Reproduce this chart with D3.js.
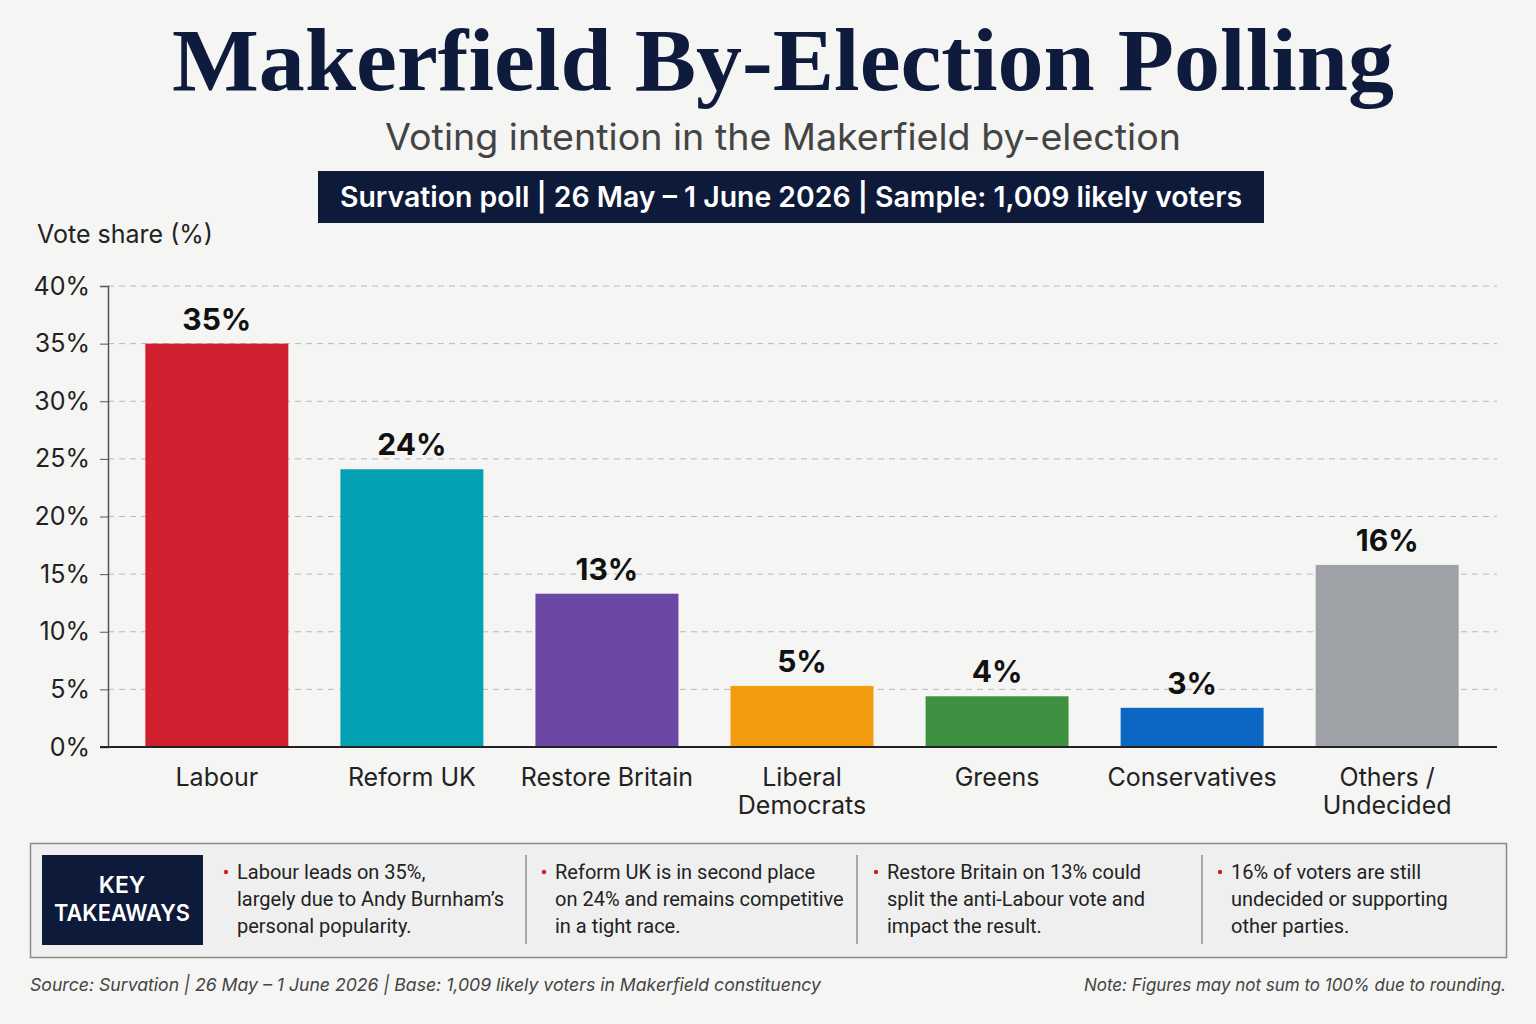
<!DOCTYPE html>
<html>
<head>
<meta charset="utf-8">
<script src="https://cdn.jsdelivr.net/npm/d3@7"></script>
<style>
  html, body { margin: 0; padding: 0; background: #f5f5f3; }
  svg { display: block; }
</style>
</head>
<body>
<script>
// poll data
const parties = ["Labour", "Reform UK", "Restore Britain", "Liberal Democrats", "Greens", "Conservatives", "Others / Undecided"]
const partyLines = [["Labour"], ["Reform UK"], ["Restore Britain"], ["Liberal", "Democrats"], ["Greens"], ["Conservatives"], ["Others /", "Undecided"]]
const shares = [35, 24.1, 13.3, 5.3, 4.4, 3.4, 15.8]
const colors = ["#d01f2f", "#04a1b5", "#6b47a6", "#f29c0e", "#3f9142", "#0b67c3", "#9ea1a6"]
const yTicks = [0, 5, 10, 15, 20, 25, 30, 35, 40]

const takeaways = [
  ["Labour leads on 35%,", "largely due to Andy Burnham\u2019s", "personal popularity."],
  ["Reform UK is in second place", "on 24% and remains competitive", "in a tight race."],
  ["Restore Britain on 13% could", "split the anti-Labour vote and", "impact the result."],
  ["16% of voters are still", "undecided or supporting", "other parties."]
]
const takeawayX = [237, 555, 887, 1231]
const dividerX = [526, 857, 1202]

const navy = "#0d1a3a"
const sans = "Inter, 'Noto Sans', sans-serif"
const narrow = "Roboto, 'Noto Sans', sans-serif"

const W = 1536, H = 1024

const svg = d3.select("body").append("svg")
  .attr("width", W).attr("height", H)
  .style("font-family", sans)

svg.append("rect").attr("width", W).attr("height", H).attr("fill", "#f5f5f3")

// title block
svg.append("text")
  .attr("x", 783).attr("y", 90)
  .attr("text-anchor", "middle")
  .attr("font-family", "'Liberation Serif', 'DejaVu Serif', serif")
  .attr("font-weight", 700)
  .attr("font-size", 88)
  .attr("fill", "#0f1b3d")
  .attr("textLength", 1222)
  .attr("lengthAdjust", "spacingAndGlyphs")
  .text("Makerfield By-Election Polling")

svg.append("text")
  .attr("x", 783).attr("y", 150)
  .attr("text-anchor", "middle")
  .attr("font-size", 37)
  .attr("fill", "#444")
  .attr("textLength", 796)
  .attr("lengthAdjust", "spacingAndGlyphs")
  .text("Voting intention in the Makerfield by-election")

svg.append("rect")
  .attr("x", 318).attr("y", 171).attr("width", 946).attr("height", 52)
  .attr("fill", navy)
svg.append("text")
  .attr("x", 791).attr("y", 207)
  .attr("text-anchor", "middle")
  .attr("font-size", 28)
  .attr("font-weight", 600)
  .attr("fill", "#fff")
  .attr("textLength", 902)
  .attr("lengthAdjust", "spacingAndGlyphs")
  .text("Survation poll | 26 May \u2013 1 June 2026 | Sample: 1,009 likely voters")

svg.append("text")
  .attr("x", 37).attr("y", 243)
  .attr("font-size", 25)
  .attr("fill", "#222")
  .text("Vote share (%)")

// scales
const x = d3.scaleBand()
  .domain(parties)
  .range([119, 1485])
  .paddingInner(0.267)
  .paddingOuter(0.135)

const y = d3.scaleLinear()
  .domain([0, 40])
  .range([747, 286])

const plotLeft = 108, plotRight = 1497

// gridlines
svg.append("g")
  .selectAll("line")
  .data(yTicks.filter(d => d > 0))
  .join("line")
  .attr("x1", plotLeft).attr("x2", plotRight)
  .attr("y1", d => y(d)).attr("y2", d => y(d))
  .attr("stroke", "#b9b9b9")
  .attr("stroke-width", 1)
  .attr("stroke-dasharray", "6,5")

// y axis
const yAxis = svg.append("g")
  .attr("transform", `translate(${plotLeft},0)`)
  .call(d3.axisLeft(y).tickValues(yTicks).tickFormat(d => d + "%").tickSize(8).tickPadding(10))
yAxis.select(".domain").attr("stroke", "#555").attr("stroke-width", 1.5)
yAxis.selectAll(".tick line").attr("stroke", "#555")
yAxis.selectAll(".tick text")
  .attr("font-size", 25)
  .attr("font-family", sans)
  .attr("fill", "#222")

// bars
svg.append("g")
  .selectAll("rect")
  .data(parties)
  .join("rect")
  .attr("x", d => x(d))
  .attr("width", x.bandwidth())
  .attr("y", (d, i) => y(shares[i]))
  .attr("height", (d, i) => y(0) - y(shares[i]))
  .attr("fill", (d, i) => colors[i])

// value labels
svg.append("g")
  .selectAll("text")
  .data(parties)
  .join("text")
  .attr("x", d => x(d) + x.bandwidth() / 2)
  .attr("y", (d, i) => y(shares[i]) - 14)
  .attr("text-anchor", "middle")
  .attr("font-size", 30)
  .attr("font-weight", 700)
  .attr("fill", "#111")
  .text((d, i) => Math.round(shares[i]) + "%")

// baseline
svg.append("line")
  .attr("x1", 100).attr("x2", plotRight)
  .attr("y1", y(0)).attr("y2", y(0))
  .attr("stroke", "#222").attr("stroke-width", 2)

// category labels
const catLabels = svg.append("g")
  .selectAll("text")
  .data(parties)
  .join("text")
  .attr("x", d => x(d) + x.bandwidth() / 2)
  .attr("y", 786)
  .attr("text-anchor", "middle")
  .attr("font-size", 25)
  .attr("fill", "#222")
catLabels.selectAll("tspan")
  .data((d, i) => partyLines[i])
  .join("tspan")
  .attr("x", function () { return d3.select(this.parentNode).attr("x") })
  .attr("dy", (d, i) => i === 0 ? 0 : 28)
  .text(d => d)

// key takeaways panel
svg.append("rect")
  .attr("x", 30.5).attr("y", 843.5).attr("width", 1476).attr("height", 114)
  .attr("fill", "#efefef")
  .attr("stroke", "#8a8a8a").attr("stroke-width", 1.5)

svg.append("rect")
  .attr("x", 42).attr("y", 855).attr("width", 161).attr("height", 90)
  .attr("fill", navy)
svg.append("text")
  .attr("x", 122).attr("y", 893)
  .attr("text-anchor", "middle")
  .attr("font-size", 23).attr("font-weight", 600).attr("fill", "#fff")
  .text("KEY")
svg.append("text")
  .attr("x", 122).attr("y", 921)
  .attr("text-anchor", "middle")
  .attr("font-size", 23).attr("font-weight", 600).attr("fill", "#fff")
  .attr("textLength", 136).attr("lengthAdjust", "spacingAndGlyphs")
  .text("TAKEAWAYS")

svg.append("g")
  .selectAll("line")
  .data(dividerX)
  .join("line")
  .attr("x1", d => d).attr("x2", d => d)
  .attr("y1", 855).attr("y2", 944)
  .attr("stroke", "#777").attr("stroke-width", 1.2)

const cols = svg.append("g")
  .selectAll("g")
  .data(takeaways)
  .join("g")
  .attr("transform", (d, i) => `translate(${takeawayX[i]},0)`)

cols.append("circle")
  .attr("cx", -11).attr("cy", 872)
  .attr("r", 2.2)
  .attr("fill", "#d01f2f")

cols.selectAll("text")
  .data(d => d)
  .join("text")
  .attr("x", 0)
  .attr("y", (d, i) => 879 + i * 27)
  .attr("font-family", narrow)
  .attr("font-size", 20)
  .attr("fill", "#222")
  .text(d => d)

// footer
svg.append("text")
  .attr("x", 30).attr("y", 991)
  .attr("font-size", 17.5).attr("font-style", "italic").attr("fill", "#444")
  .attr("textLength", 791).attr("lengthAdjust", "spacingAndGlyphs")
  .text("Source: Survation | 26 May \u2013 1 June 2026 | Base: 1,009 likely voters in Makerfield constituency")
svg.append("text")
  .attr("x", 1506).attr("y", 991)
  .attr("text-anchor", "end")
  .attr("font-size", 17.5).attr("font-style", "italic").attr("fill", "#444")
  .attr("textLength", 422).attr("lengthAdjust", "spacingAndGlyphs")
  .text("Note: Figures may not sum to 100% due to rounding.")
</script>
</body>
</html>
